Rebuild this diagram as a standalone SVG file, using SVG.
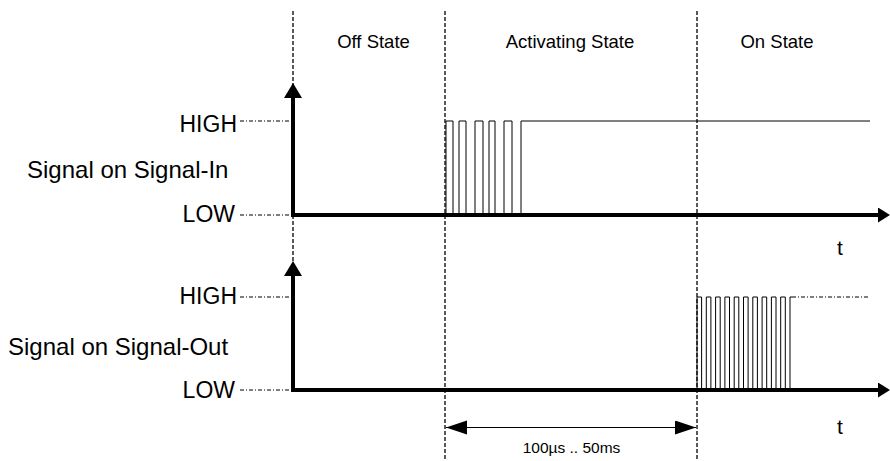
<svg xmlns="http://www.w3.org/2000/svg" width="890" height="461" viewBox="0 0 890 461">
<style>
text{font-family:"Liberation Sans",Arial,sans-serif;fill:#000}
.lbl{font-size:23px}
.big{font-size:24px}
.st{font-size:18.5px;text-anchor:middle}
.dim{font-size:15.5px;text-anchor:middle}
.tl{font-size:21px;text-anchor:middle}
.r{text-anchor:end}
.vd{stroke:#000;stroke-width:1.3;stroke-dasharray:4,2;fill:none}
.ref{stroke:#000;stroke-width:1;stroke-dasharray:4,2,1,2;fill:none}
.axis{stroke:#000;stroke-width:4;fill:none}
.sig{stroke:#000;stroke-width:1;fill:none}
</style>
<defs>
<marker id="av" markerUnits="userSpaceOnUse" markerWidth="16" markerHeight="18" refX="0" refY="9" orient="auto"><path d="M0,0 L15,9 L0,18 z" fill="#000"/></marker>
<marker id="ah" markerUnits="userSpaceOnUse" markerWidth="13" markerHeight="16" refX="0" refY="7.5" orient="auto"><path d="M0,0 L12,7.5 L0,15 z" fill="#000"/></marker>
<marker id="dm" markerUnits="userSpaceOnUse" markerWidth="22" markerHeight="15" refX="21" refY="7" orient="auto-start-reverse"><path d="M0,0 L21,7 L0,14 z" fill="#000"/></marker>
</defs>

<g id="connectors">
  <line class="vd" x1="293" y1="11" x2="293" y2="262"/>
  <line class="vd" x1="445" y1="11" x2="445" y2="461"/>
  <line class="vd" x1="697" y1="11" x2="697" y2="461"/>
  <line class="ref" x1="240" y1="121" x2="291" y2="121"/>
  <line class="ref" x1="240" y1="215" x2="291" y2="215"/>
  <line class="ref" x1="240" y1="297" x2="291" y2="297"/>
  <line class="ref" x1="240" y1="390" x2="291" y2="390"/>
  <line class="ref" x1="792" y1="297" x2="870" y2="297"/>
  <line stroke="#000" stroke-width="1" x1="446" y1="427.5" x2="696" y2="427.5" marker-start="url(#dm)" marker-end="url(#dm)"/>
</g>

<g id="states">
  <text class="st" x="373.5" y="48">Off State</text>
  <text class="st" x="570" y="48">Activating State</text>
  <text class="st" x="777" y="48">On State</text>
</g>

<g id="signal-in">
  <line class="axis" x1="293" y1="217" x2="293" y2="98" marker-end="url(#av)"/>
  <line class="axis" x1="291" y1="215" x2="878" y2="215" marker-end="url(#ah)"/>
  <path class="sig" d="M446,215 V121 H453 V215 H459 V121 H466 V215 H475 V121 H483 V215 H489 V121 H495 V215 H504 V121 H512 V215 H521 V121 H870"/>
  <text class="lbl r" x="237" y="131.5">HIGH</text>
  <text class="big" x="27" y="178">Signal on Signal-In</text>
  <text class="lbl r" x="235" y="222">LOW</text>
  <text class="tl" x="840" y="255">t</text>
</g>

<g id="signal-out">
  <line class="axis" x1="293" y1="392" x2="293" y2="276" marker-end="url(#av)"/>
  <line class="axis" x1="291" y1="390" x2="878" y2="390" marker-end="url(#ah)"/>
  <path class="sig" d="M697,390 V297 H701.6 V390 H706.3 V297 H710.9 V390 H715.6 V297 H720.2 V390 H724.9 V297 H729.5 V390 H734.2 V297 H738.8 V390 H743.5 V297 H748.1 V390 H752.8 V297 H757.4 V390 H762.1 V297 H766.7 V390 H771.4 V297 H776 V390 H780.7 V297 H785.3 V390 H790 V297 H792"/>
  <text class="lbl r" x="237" y="304">HIGH</text>
  <text class="big" x="8" y="355">Signal on Signal-Out</text>
  <text class="lbl r" x="235" y="398">LOW</text>
  <text class="tl" x="840" y="434">t</text>
</g>

<g id="duration">
  <text class="dim" x="571.5" y="453">100µs .. 50ms</text>
</g>
</svg>
